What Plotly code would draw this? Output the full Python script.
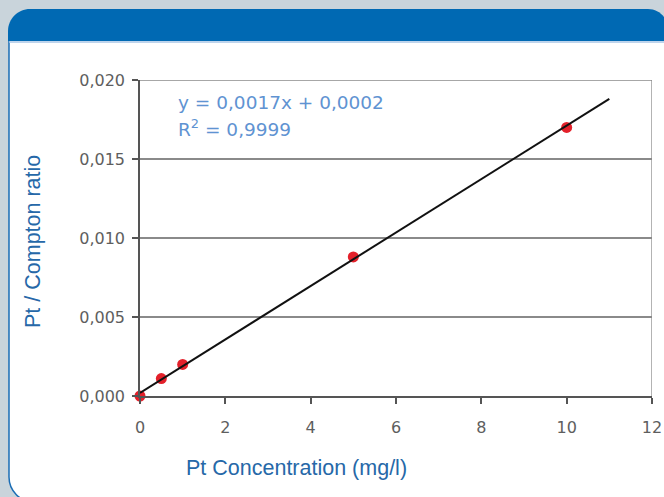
import plotly.graph_objects as go

# ---- data ----
conc = [0, 0.5, 1, 5, 10]
ratio = [0.0000, 0.0011, 0.0020, 0.0088, 0.0170]
trend_x = [0, 11]
trend_y = [0.0002, 0.0188]
x_ticks = [0, 2, 4, 6, 8, 10, 12]
y_ticks = [0.000, 0.005, 0.010, 0.015, 0.020]
equation = "y = 0,0017x + 0,0002"
r2_text = "R<sup>2</sup> = 0,9999"
x_title = "Pt Concentration (mg/l)"
y_title = "Pt / Compton ratio"

W, H = 664, 497


def px(x):
    return x / W


def py(y):
    return 1 - y / H


def path(cmds):
    out = []
    for c in cmds:
        op = c[0]
        pts = c[1:]
        s = op
        for (x, y) in pts:
            s += f" {px(x):.5f},{py(y):.5f}"
        out.append(s)
    return " ".join(out) + " Z"


k = 0.5523
# white panel
r = 25
panel = path([
    ("M", (9, 41)),
    ("L", (9, 477)),
    ("C", (9, 477 + r * k), (34 - r * k, 502), (34, 502)),
    ("L", (680, 502)),
    ("L", (680, 41)),
])
# left border line (open path)
border = (f"M {px(9):.5f},{py(41):.5f} L {px(9):.5f},{py(477):.5f} "
          f"C {px(9):.5f},{py(477 + r * k):.5f} {px(34 - r * k):.5f},{py(502):.5f} {px(34):.5f},{py(502):.5f}")
# header
r1, r2 = 22, 20
header = path([
    ("M", (8, 41)),
    ("L", (8, 9 + r1)),
    ("C", (8, 9 + r1 - r1 * k), (8 + r1 - r1 * k, 9), (8 + r1, 9)),
    ("L", (648, 9)),
    ("C", (648 + r2 * k, 9), (668, 29 - r2 * k), (668, 29)),
    ("L", (668, 41)),
])

fig = go.Figure()
fig.add_trace(go.Scatter(
    x=conc, y=ratio, mode="markers",
    marker=dict(color="#e3202a", size=11, symbol="circle"),
    cliponaxis=False, showlegend=False,
))
fig.add_trace(go.Scatter(
    x=trend_x, y=trend_y, mode="lines",
    line=dict(color="#111111", width=2),
    cliponaxis=False, showlegend=False,
))

shapes = [
    dict(type="path", path=panel, xref="paper", yref="paper",
         fillcolor="white", line=dict(width=0), layer="below"),
    dict(type="path", path=header, xref="paper", yref="paper",
         fillcolor="#0069b3", line=dict(width=0), layer="below"),
    dict(type="path", path=border, xref="paper", yref="paper",
         line=dict(color="#1a6db5", width=1.5), layer="below"),
    dict(type="line", xref="paper", yref="paper", x0=px(9), x1=1.01, y0=py(42), y1=py(42),
         line=dict(color="#a8c6e6", width=1.5), layer="below"),
    dict(type="line", xref="x", yref="y", x0=12, x1=12, y0=0, y1=0.02,
         line=dict(color="#9a9a9a", width=1.5), layer="below"),
    dict(type="line", xref="x", yref="y", x0=0, x1=12, y0=0.02, y1=0.02,
         line=dict(color="#8a8a8a", width=1.5), layer="below"),
]

annotations = [
    dict(text=equation, xref="paper", yref="paper", x=px(176), y=py(102),
         xanchor="left", yanchor="middle", showarrow=False,
         font=dict(family="DejaVu Sans", size=18.5, color="#5f93d2")),
    dict(text=r2_text, xref="paper", yref="paper", x=px(176), y=py(128),
         xanchor="left", yanchor="middle", showarrow=False,
         font=dict(family="DejaVu Sans", size=18.5, color="#5f93d2")),
    dict(text=x_title, xref="paper", yref="paper", x=px(296), y=py(468),
         xanchor="center", yanchor="middle", showarrow=False,
         font=dict(family="Liberation Sans", size=21.5, color="#2668a8")),
    dict(text=y_title, xref="paper", yref="paper", x=px(33), y=py(242),
         xanchor="center", yanchor="middle", showarrow=False, textangle=-90,
         font=dict(family="Liberation Sans", size=21.5, color="#2668a8")),
]

fig.update_layout(
    width=W, height=H,
    margin=dict(l=0, r=0, t=0, b=0, pad=0, autoexpand=False),
    paper_bgcolor="#c9d4db",
    plot_bgcolor="rgba(0,0,0,0)",
    separators=", ",
    shapes=shapes,
    annotations=annotations,
    xaxis=dict(
        domain=[px(140), px(652)], range=[0, 12],
        tickvals=x_ticks, tickformat="d", automargin=False,
        showgrid=False, zeroline=False,
        showline=True, linecolor="#555555", linewidth=1.5,
        ticks="outside", ticklen=6, tickcolor="#555555", tickwidth=1.5,
        ticklabelstandoff=10,
        tickfont=dict(family="DejaVu Sans", size=16, color="#5e5e5e"),
    ),
    yaxis=dict(
        domain=[py(396), py(80)], range=[0, 0.02],
        tickvals=y_ticks, tickformat=".3f", automargin=False,
        showgrid=True, gridcolor="#8a8a8a", gridwidth=1.5,
        zeroline=False,
        showline=True, linecolor="#555555", linewidth=1.5,
        ticks="outside", ticklen=6, tickcolor="#555555", tickwidth=1.5,
        ticklabelstandoff=4,
        tickfont=dict(family="DejaVu Sans", size=16, color="#5e5e5e"),
    ),
)

fig.write_html(
    "out.html",
    config={"displayModeBar": False},
    post_script="document.body.style.margin='0';document.body.style.background='#c9d4db';",
)
